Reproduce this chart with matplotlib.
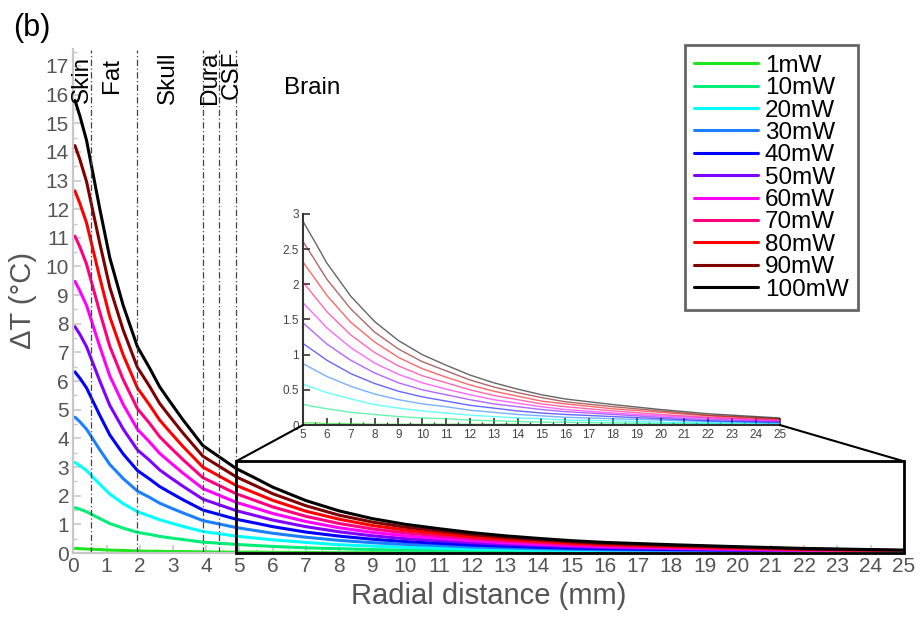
"""Temperature rise vs radial distance for several optical powers, with zoomed inset."""

import matplotlib.pyplot as plt
from matplotlib.patches import Rectangle, ConnectionPatch
from matplotlib.ticker import MultipleLocator, FormatStrFormatter

plt.rcParams['font.family'] = ['Liberation Sans', 'DejaVu Sans']

# radial distance (mm)
r_mm = [0.05, 0.2, 0.4, 0.55, 0.8, 1.1, 1.5, 1.93, 2.3, 2.6, 2.9, 3.3, 3.9, 4.4, 4.9,
        5.5, 6, 7, 8, 9, 10, 11, 12, 13, 14, 15, 16, 18, 20, 22, 25]

# temperature rise (deg C), one list per power
dT_1 = [0.16, 0.15, 0.14, 0.13, 0.12, 0.10, 0.09, 0.07, 0.06, 0.06, 0.05, 0.05, 0.04, 0.03, 0.03,
        0.03, 0.02, 0.02, 0.01, 0.01, 0.01, 0.01, 0.01, 0.01, 0.01, 0.00, 0.00, 0.00, 0.00, 0.00, 0.00]
dT_10 = [1.58, 1.53, 1.44, 1.35, 1.20, 1.03, 0.87, 0.72, 0.65, 0.58, 0.53, 0.47, 0.38, 0.34, 0.30,
         0.26, 0.23, 0.18, 0.15, 0.12, 0.10, 0.09, 0.07, 0.06, 0.05, 0.04, 0.04, 0.03, 0.02, 0.02, 0.01]
dT_20 = [3.16, 3.05, 2.88, 2.70, 2.40, 2.06, 1.73, 1.44, 1.29, 1.16, 1.06, 0.93, 0.75, 0.67, 0.59,
         0.52, 0.46, 0.37, 0.29, 0.24, 0.20, 0.17, 0.14, 0.12, 0.10, 0.09, 0.07, 0.06, 0.04, 0.03, 0.02]
dT_30 = [4.74, 4.58, 4.32, 4.05, 3.60, 3.09, 2.60, 2.16, 1.94, 1.74, 1.59, 1.40, 1.13, 1.01, 0.89,
         0.78, 0.69, 0.55, 0.44, 0.36, 0.30, 0.26, 0.21, 0.18, 0.15, 0.13, 0.11, 0.09, 0.07, 0.05, 0.03]
dT_40 = [6.32, 6.10, 5.76, 5.40, 4.80, 4.12, 3.46, 2.88, 2.58, 2.32, 2.12, 1.86, 1.50, 1.34, 1.18,
         1.04, 0.92, 0.73, 0.59, 0.48, 0.40, 0.34, 0.28, 0.24, 0.20, 0.17, 0.15, 0.12, 0.09, 0.06, 0.04]
dT_50 = [7.90, 7.63, 7.20, 6.75, 6.00, 5.15, 4.33, 3.60, 3.23, 2.90, 2.65, 2.33, 1.88, 1.68, 1.48,
         1.30, 1.15, 0.92, 0.74, 0.60, 0.50, 0.43, 0.36, 0.30, 0.26, 0.22, 0.19, 0.15, 0.11, 0.08, 0.05]
dT_60 = [9.48, 9.15, 8.64, 8.10, 7.20, 6.18, 5.19, 4.32, 3.87, 3.48, 3.18, 2.79, 2.25, 2.01, 1.77,
         1.56, 1.38, 1.10, 0.88, 0.72, 0.60, 0.51, 0.43, 0.36, 0.31, 0.26, 0.22, 0.17, 0.13, 0.10, 0.06]
dT_70 = [11.06, 10.68, 10.08, 9.45, 8.40, 7.21, 6.06, 5.04, 4.52, 4.06, 3.71, 3.26, 2.63, 2.35, 2.07,
         1.82, 1.61, 1.28, 1.03, 0.84, 0.70, 0.60, 0.50, 0.42, 0.36, 0.30, 0.26, 0.20, 0.15, 0.11, 0.07]
dT_80 = [12.64, 12.20, 11.52, 10.80, 9.60, 8.24, 6.92, 5.76, 5.16, 4.64, 4.24, 3.72, 3.00, 2.68, 2.36,
         2.08, 1.84, 1.46, 1.18, 0.96, 0.80, 0.68, 0.57, 0.48, 0.41, 0.34, 0.30, 0.23, 0.18, 0.13, 0.08]
dT_90 = [14.22, 13.73, 12.96, 12.15, 10.80, 9.27, 7.79, 6.48, 5.81, 5.22, 4.77, 4.19, 3.38, 3.02, 2.66,
         2.34, 2.07, 1.65, 1.32, 1.08, 0.90, 0.77, 0.64, 0.54, 0.46, 0.39, 0.33, 0.26, 0.20, 0.14, 0.09]
dT_100 = [15.80, 15.25, 14.40, 13.50, 12.00, 10.30, 8.65, 7.20, 6.45, 5.80, 5.30, 4.65, 3.75, 3.35, 2.95,
          2.60, 2.30, 1.83, 1.47, 1.20, 1.00, 0.85, 0.71, 0.60, 0.51, 0.43, 0.37, 0.29, 0.22, 0.16, 0.10]

labels = ["1mW", "10mW", "20mW", "30mW", "40mW", "50mW",
          "60mW", "70mW", "80mW", "90mW", "100mW"]
series = [dT_1, dT_10, dT_20, dT_30, dT_40, dT_50, dT_60, dT_70, dT_80, dT_90, dT_100]
colors = ["#1ee61e", "#00ee77", "#00ffff", "#1a80ff", "#0000ff", "#8000ff",
          "#ff00ff", "#ff0080", "#ff0000", "#800000", "#000000"]

# tissue boundaries (mm) and layer names
boundaries = [0.53, 1.93, 3.9, 4.39, 4.9]
layer_names = ["Skin", "Fat", "Skull", "Dura", "CSF", "Brain"]
layer_x = [0.26, 1.17, 2.85, 4.12, 4.76, 7.2]
layer_y = [16.54, 16.67, 16.6, 16.6, 16.68, 16.23]

GRAY_AX = "#c8c8c8"
GRAY_TXT = "#555555"

fig = plt.figure(figsize=(9.24, 6.21), dpi=100)
ax = fig.add_axes([0.0793, 0.1095, 0.899, 0.812])

for y, c, lab in zip(series, colors, labels):
    ax.plot(r_mm, y, color=c, lw=2.2, label=lab, solid_capstyle='round')

for b in boundaries:
    ax.plot([b, b], [0, 17.55], color="#444444", lw=0.9, ls=(0, (5, 2, 1, 2)))

for name, x, y in zip(layer_names, layer_x, layer_y):
    rot = 0 if name == "Brain" else 90
    ax.text(x, y, name, rotation=rot, ha='center', va='center', fontsize=17.5, color='black')

ax.set_xlim(0, 25)
ax.set_ylim(0, 17.6)
ax.xaxis.set_major_locator(MultipleLocator(1))
ax.xaxis.set_minor_locator(MultipleLocator(0.5))
ax.yaxis.set_minor_locator(MultipleLocator(0.5))
ax.set_yticks(range(0, 18))
for s in ['top', 'right']:
    ax.spines[s].set_visible(False)
for s in ['left', 'bottom']:
    ax.spines[s].set_color(GRAY_AX)
    ax.spines[s].set_linewidth(1.6)
ax.tick_params(which='both', direction='in', color=GRAY_AX, labelcolor=GRAY_TXT,
               labelsize=15, pad=3)
ax.tick_params(which='major', length=6, width=1.2)
ax.tick_params(which='minor', length=3, width=1.0)
ax.set_xlabel("Radial distance (mm)", fontsize=21, color=GRAY_TXT, labelpad=4)
ax.set_ylabel("\u0394T (\u00b0C)", fontsize=21, color=GRAY_TXT, labelpad=6)

# zoom box in the main plot
ax.add_patch(Rectangle((4.9, 0), 20.1, 3.2, fill=False, ec='black', lw=2,
                       clip_on=False, zorder=5))

leg = ax.legend(loc='upper left', bbox_to_anchor=(0.741, 0.9275),
                bbox_transform=fig.transFigure, borderaxespad=0, fontsize=17.5,
                handlelength=2.6, handletextpad=0.3, labelspacing=0.015,
                fancybox=False, framealpha=1, borderpad=0.4)
leg.get_frame().set_edgecolor('#666666')
leg.get_frame().set_linewidth(2)

# inset
axin = fig.add_axes([0.328, 0.3156, 0.516, 0.340])
for y, c in zip(series, colors):
    axin.plot(r_mm, y, color=c, lw=1.0, alpha=0.6)
axin.set_xlim(5, 25)
axin.set_ylim(0, 3)
axin.xaxis.set_major_locator(MultipleLocator(1))
axin.xaxis.set_minor_locator(MultipleLocator(0.5))
axin.yaxis.set_major_locator(MultipleLocator(0.5))
axin.yaxis.set_major_formatter(FormatStrFormatter('%g'))
for s in ['top', 'right']:
    axin.spines[s].set_visible(False)
for s in ['left', 'bottom']:
    axin.spines[s].set_color('#333333')
    axin.spines[s].set_linewidth(1.5)
axin.tick_params(which='both', direction='in', color='#333333', labelcolor='#444444',
                 labelsize=8.5, pad=3)
axin.tick_params(which='major', length=5, width=1.2)
axin.tick_params(which='minor', length=2.5, width=1.0)
axin.patch.set_alpha(0)

for xa, xb in [((4.9, 3.2), (5, 0)), ((25, 3.2), (25, 0))]:
    con = ConnectionPatch(xyA=xa, coordsA=ax.transData, xyB=xb, coordsB=axin.transData,
                          color='black', lw=1.5)
    fig.add_artist(con)

fig.text(0.014, 0.955, "(b)", fontsize=22, va='center', ha='left')

fig.savefig("out.png", dpi=100)
